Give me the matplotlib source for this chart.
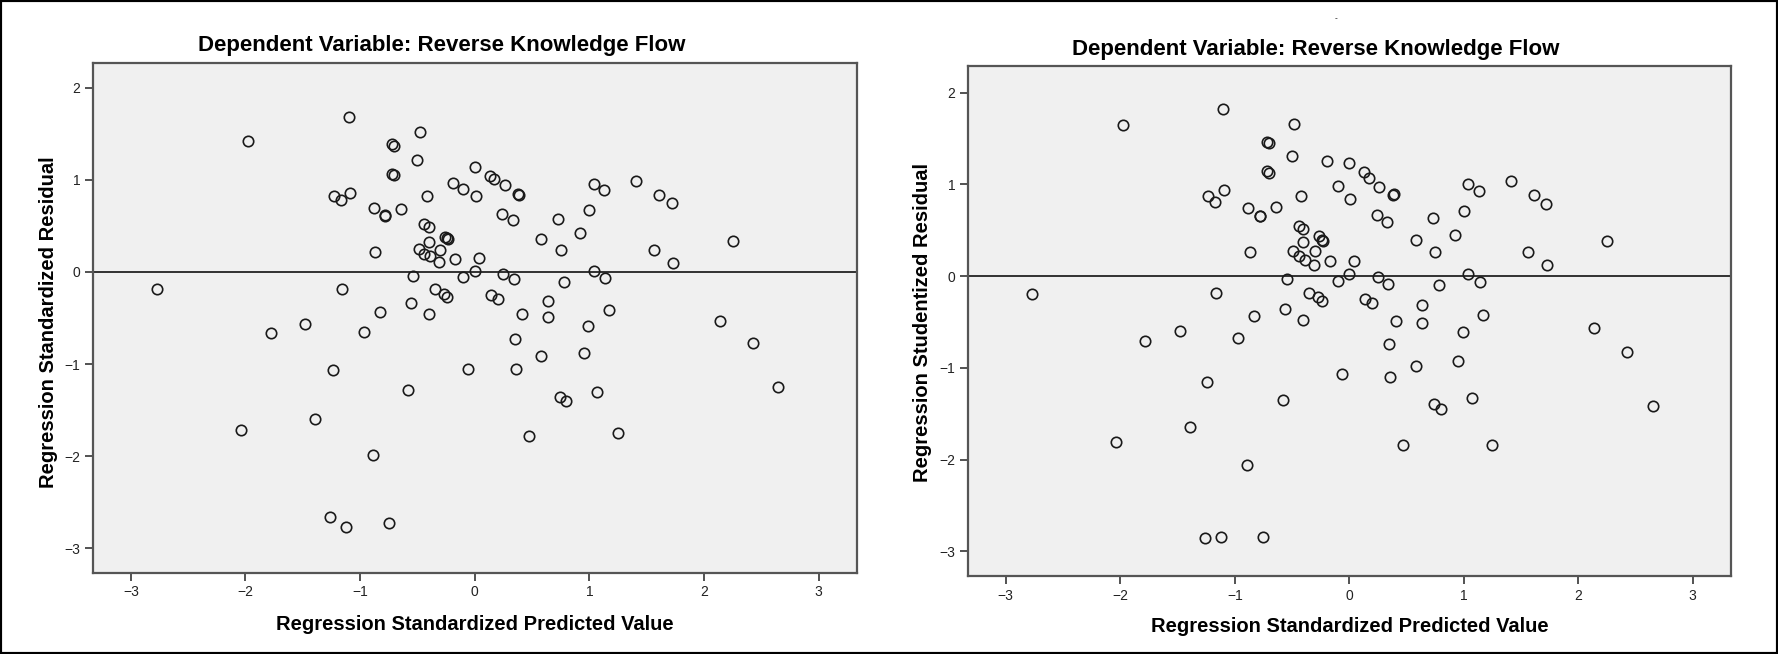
import matplotlib
matplotlib.use("Agg")
import matplotlib.pyplot as plt
from matplotlib.patches import Rectangle

plt.rcParams['font.family'] = ['Liberation Sans', 'DejaVu Sans']

# Standardized predicted values (shared by both panels)
predicted = [
    -1.10, -1.98, -0.48, -0.72, -0.70, -0.50, 0.00, 0.13, 0.17, -0.72,
    -0.70, -0.19, -0.10, 0.01, -0.42, -1.23, -1.17, -1.09, -0.88, -0.78,
    -0.78, -0.64, -0.44, -0.40, -0.26, -0.23, -0.24, -0.40, -0.87, -0.49,
    -0.44, -0.39, -0.30, -0.31, -0.17, 0.04, 0.00, 0.26, 0.39, 0.38,
    0.24, 0.33, 1.04, 1.13, 1.41, 1.61, 1.72, 0.73, 1.00, 0.58,
    0.92, 0.75, 1.56, 1.73, 2.25, 1.04,
    -0.10, -0.54, -2.77, -1.16, -0.35, -0.27, -0.24, -0.56, -0.83, -0.40,
    -1.78, -1.48, -0.97, -1.24, -0.06, -0.58, -1.39, -2.04, -0.89, -1.26,
    -1.12, -0.75, 0.25, 0.34, 1.14, 0.78, 0.14, 0.20, 0.64, 0.41,
    0.64, 1.17, 2.14, 0.99, 2.43, 0.35, 0.58, 0.95, 0.36, 0.74,
    0.80, 1.07, 2.65, 0.47, 1.25,
]

standardized_resid = [
    1.68, 1.42, 1.52, 1.39, 1.37, 1.22, 1.14, 1.04, 1.01, 1.06,
    1.05, 0.97, 0.90, 0.82, 0.83, 0.83, 0.78, 0.86, 0.69, 0.61,
    0.62, 0.68, 0.52, 0.49, 0.38, 0.36, 0.37, 0.33, 0.22, 0.25,
    0.20, 0.17, 0.24, 0.11, 0.14, 0.15, 0.01, 0.94, 0.84, 0.85,
    0.63, 0.56, 0.96, 0.89, 0.99, 0.84, 0.75, 0.57, 0.67, 0.36,
    0.42, 0.24, 0.24, 0.10, 0.34, 0.01,
    -0.06, -0.04, -0.19, -0.18, -0.18, -0.24, -0.27, -0.34, -0.43, -0.46,
    -0.66, -0.57, -0.65, -1.07, -1.05, -1.28, -1.60, -1.72, -1.99, -2.66,
    -2.77, -2.73, -0.02, -0.08, -0.07, -0.11, -0.25, -0.29, -0.32, -0.46,
    -0.49, -0.41, -0.53, -0.59, -0.77, -0.73, -0.91, -0.88, -1.05, -1.36,
    -1.40, -1.30, -1.25, -1.78, -1.75,
]

studentized_resid = [
    1.82, 1.65, 1.66, 1.46, 1.45, 1.31, 1.23, 1.13, 1.07, 1.15,
    1.12, 1.25, 0.98, 0.84, 0.87, 0.87, 0.81, 0.94, 0.74, 0.65,
    0.66, 0.75, 0.55, 0.51, 0.44, 0.38, 0.39, 0.37, 0.26, 0.27,
    0.22, 0.18, 0.27, 0.12, 0.16, 0.16, 0.02, 0.97, 0.89, 0.88,
    0.67, 0.59, 1.00, 0.93, 1.04, 0.88, 0.79, 0.63, 0.71, 0.39,
    0.45, 0.26, 0.26, 0.12, 0.38, 0.02,
    -0.05, -0.03, -0.20, -0.19, -0.18, -0.23, -0.27, -0.36, -0.44, -0.48,
    -0.71, -0.60, -0.67, -1.15, -1.07, -1.35, -1.65, -1.81, -2.06, -2.86,
    -2.84, -2.84, -0.01, -0.09, -0.06, -0.10, -0.25, -0.29, -0.32, -0.49,
    -0.51, -0.43, -0.57, -0.61, -0.83, -0.74, -0.98, -0.93, -1.10, -1.40,
    -1.45, -1.33, -1.42, -1.84, -1.84,
]

title = 'Dependent Variable: Reverse Knowledge Flow'
xlabel = 'Regression Standardized Predicted Value'
ylabels = ['Regression Standardized Residual', 'Regression Studentized Residual']
ticks_x = [-3, -2, -1, 0, 1, 2, 3]
ticks_y = [-3, -2, -1, 0, 1, 2]

W, H = 1778, 654
fig = plt.figure(figsize=(W / 100, H / 100), dpi=100)


def px(x0, y0, x1, y1):
    # pixel box (top-left origin) -> figure fraction rect
    return [x0 / W, 1 - y1 / H, (x1 - x0) / W, (y1 - y0) / H]


panels = [
    dict(rect=px(93, 63, 857, 573), ylim=(-3.27, 2.27), resid=standardized_resid,
         title_xy=(442, 46), ylab_x=49, xlab_y=625),
    dict(rect=px(968, 66, 1731, 576), ylim=(-3.27, 2.29), resid=studentized_resid,
         title_xy=(1316, 49), ylab_x=922, xlab_y=627),
]

for p, ylab in zip(panels, ylabels):
    ax = fig.add_axes(p['rect'])
    ax.set_facecolor('#f0f0f0')
    ax.set_xlim(-3.33, 3.335)
    ax.set_ylim(*p['ylim'])
    ax.axhline(0, color='#222222', lw=1.3, zorder=1)
    ax.plot(predicted, p['resid'], 'o', mfc='none', mec='#1a1a1a',
            ms=7.5, mew=1.2, zorder=2)
    for s in ax.spines.values():
        s.set_color('#555555')
        s.set_linewidth(1.6)
    ax.set_xticks(ticks_x)
    ax.set_yticks(ticks_y)
    ax.tick_params(direction='out', length=6, width=1.3, color='#444444',
                   labelsize=10, pad=3, labelcolor='#222222')
    fig.text(p['title_xy'][0] / W, 1 - p['title_xy'][1] / H, title,
             ha='center', va='center', fontsize=16, fontweight='bold')
    fig.text(p['ylab_x'] / W, 1 - 322 / H, ylab, rotation=90,
             ha='center', va='center', fontsize=14.5, fontweight='bold')
    x_mid = (p['rect'][0] + p['rect'][2] / 2)
    fig.text(x_mid, 1 - p['xlab_y'] / H, xlabel,
             ha='center', va='center', fontsize=14.5, fontweight='bold')

# small stray mark near top
fig.text(1336 / W, 1 - 19 / H, '-', ha='center', va='center', fontsize=6)

# black frame around the picture
fig.patches.append(Rectangle((0, 0), 1, 1, transform=fig.transFigure,
                             fill=False, edgecolor='black', lw=3))

fig.savefig('out.png', dpi=100)
